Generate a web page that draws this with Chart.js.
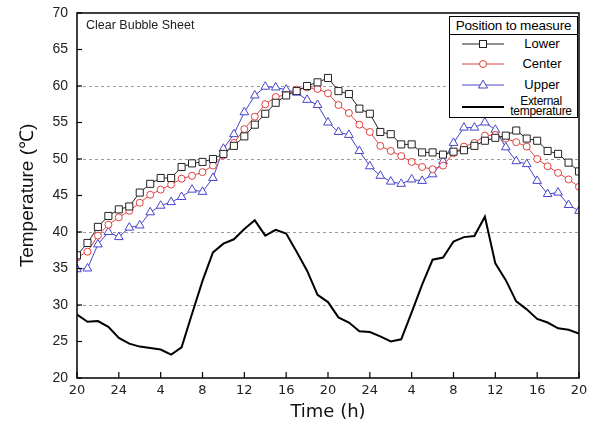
<!DOCTYPE html>
<html><head><meta charset="utf-8">
<script src="https://cdn.jsdelivr.net/npm/chart.js@4.4.0/dist/chart.umd.min.js"></script>
<style>
html,body{margin:0;padding:0;background:#fff;}
#wrap{position:relative;width:601px;height:435px;overflow:hidden;}
canvas{position:absolute;left:0;top:0;}
#note{position:absolute;left:86px;top:18px;font:12.5px "Liberation Sans",Arial,sans-serif;color:#222;white-space:nowrap;}
#legend{position:absolute;left:449px;top:16px;width:127px;height:100px;border:1px solid #000;background:#fff;font-family:"Liberation Sans",Arial,sans-serif;color:#000;}
#legend .hd{position:absolute;left:0;top:0;width:127px;height:17px;border-bottom:1px solid #000;text-align:center;font-size:13.5px;line-height:17px;letter-spacing:-0.2px;white-space:nowrap;}
#legend .row{position:absolute;left:0;width:127px;height:20px;}
#legend svg{position:absolute;left:12px;top:0;}
#legend .tx{position:absolute;left:62px;width:60px;text-align:center;font-size:13px;line-height:20px;white-space:nowrap;}
#legend .tx2{position:absolute;left:56px;width:70px;text-align:center;font-size:12px;line-height:10px;white-space:nowrap;letter-spacing:-0.3px;}
</style></head>
<body>
<div id="wrap">
<canvas id="c" width="601" height="435"></canvas>
<div id="note">Clear Bubble Sheet</div>
<div id="legend">
  <div class="hd">Position to measure</div>
  <div class="row" style="top:17px"><svg width="42" height="20"><line x1="0" y1="10" x2="42" y2="10" stroke="#222" stroke-width="1"/><rect x="17.5" y="6.5" width="7" height="7" fill="#fff" stroke="#222" stroke-width="1"/></svg><div class="tx">Lower</div></div>
  <div class="row" style="top:37px"><svg width="42" height="20"><line x1="0" y1="10" x2="42" y2="10" stroke="#e0403f" stroke-width="1"/><circle cx="21" cy="10" r="3.5" fill="#fff" stroke="#e0403f" stroke-width="1"/></svg><div class="tx">Center</div></div>
  <div class="row" style="top:58px"><svg width="42" height="20"><line x1="0" y1="10" x2="42" y2="10" stroke="#4646cc" stroke-width="1"/><polygon points="21,5 25.5,13 16.5,13" fill="#fff" stroke="#4646cc" stroke-width="1"/></svg><div class="tx">Upper</div></div>
  <div class="row" style="top:79px"><svg width="42" height="20"><line x1="0" y1="11" x2="42" y2="11" stroke="#000" stroke-width="2"/></svg><div class="tx2" style="top:0px">External</div><div class="tx2" style="top:10px">temperature</div></div>
</div>
</div>
<script>
const hours = [0,1,2,3,4,5,6,7,8,9,10,11,12,13,14,15,16,17,18,19,20,21,22,23,24,25,26,27,28,29,30,31,32,33,34,35,36,37,38,39,40,41,42,43,44,45,46,47,48];
const xTickLabels = ['20','24','4','8','12','16','20','24','4','8','12','16','20'];
const lower = [36.8,38.5,40.7,42.2,43.1,43.5,45.4,46.6,47.4,47.4,48.9,49.4,49.6,50.0,50.7,51.8,53.1,54.7,56.2,57.7,58.7,59.3,60.0,60.5,61.1,59.3,58.9,56.9,56.2,53.7,53.4,52.0,52.0,50.9,50.9,50.6,51.0,51.2,51.8,52.5,52.9,53.2,53.9,52.8,52.5,51.1,50.7,49.5,48.3];
const center = [36.5,37.3,39.5,41.0,42.0,42.9,44.0,45.1,45.8,46.5,47.3,47.7,48.2,49.1,50.5,52.2,54.1,55.8,57.5,58.5,58.8,59.5,59.8,59.6,59.0,57.4,56.3,54.7,53.7,51.8,51.1,50.4,49.6,48.9,48.6,49.1,50.8,51.7,52.2,53.2,53.3,52.8,52.3,51.7,50.0,49.0,48.1,47.2,46.2];
const upper = [34.9,35.0,38.3,40.0,39.3,40.6,40.9,42.7,43.6,44.1,44.8,45.8,45.5,47.4,51.4,53.4,56.4,58.7,59.9,59.8,59.5,59.1,58.1,57.4,55.0,53.7,53.3,51.1,49.0,47.7,46.9,46.6,47.2,47.0,47.9,49.7,52.2,54.3,54.3,55.0,54.0,51.6,49.7,49.3,47.0,45.2,45.4,43.7,42.9];
const external = [28.7,27.7,27.8,27.0,25.5,24.7,24.3,24.1,23.9,23.2,24.2,28.8,33.3,37.2,38.4,39.0,40.4,41.6,39.5,40.3,39.8,37.3,34.7,31.4,30.4,28.3,27.6,26.4,26.3,25.7,25.0,25.3,29.0,32.8,36.2,36.5,38.7,39.3,39.45,42.1,35.7,33.4,30.5,29.4,28.1,27.6,26.8,26.6,26.1];
const gridValues = [30,40,50,60];

const pts = arr => arr.map((v,i)=>({x:hours[i], y:v}));

const framePlugin = {
  id:'frame',
  beforeDatasetsDraw(chart){
    const {ctx, chartArea:a, scales:{y}} = chart;
    ctx.save();
    ctx.strokeStyle='#9c9c9c'; ctx.lineWidth=1; ctx.setLineDash([3,3]);
    gridValues.forEach(v=>{
      const py=Math.round(y.getPixelForValue(v))+0.5;
      ctx.beginPath(); ctx.moveTo(a.left,py); ctx.lineTo(a.right,py); ctx.stroke();
    });
    ctx.restore();
  },
  afterDraw(chart){
    const {ctx, chartArea:a, scales:{x,y}} = chart;
    ctx.save();
    ctx.strokeStyle='#000'; ctx.lineWidth=1.5; ctx.setLineDash([]);
    ctx.strokeRect(a.left, a.top, a.right-a.left, a.bottom-a.top);
    ctx.lineWidth=1.2;
    y.ticks.forEach(t=>{
      const py=y.getPixelForValue(t.value);
      ctx.beginPath(); ctx.moveTo(a.left,py); ctx.lineTo(a.left+5,py); ctx.stroke();
    });
    x.ticks.forEach(t=>{
      const px=x.getPixelForValue(t.value);
      ctx.beginPath(); ctx.moveTo(px,a.bottom); ctx.lineTo(px,a.bottom-6); ctx.stroke();
    });
    ctx.restore();
  }
};

new Chart(document.getElementById('c'), {
  type:'line',
  data:{datasets:[
    {label:'External temperature', data:pts(external), borderColor:'#000', borderWidth:2, pointRadius:0, tension:0},
    {label:'Lower', data:pts(lower), borderColor:'#222', borderWidth:1, pointStyle:'rect', pointRadius:5, pointBorderWidth:1, pointBorderColor:'#222', pointBackgroundColor:'#fff', tension:0},
    {label:'Center', data:pts(center), borderColor:'#e0403f', borderWidth:1, pointStyle:'circle', pointRadius:3.5, pointBorderWidth:1, pointBorderColor:'#e0403f', pointBackgroundColor:'#fff', tension:0},
    {label:'Upper', data:pts(upper), borderColor:'#4646cc', borderWidth:1, pointStyle:'triangle', pointRadius:5, pointBorderWidth:1, pointBorderColor:'#4646cc', pointBackgroundColor:'#fff', tension:0}
  ]},
  options:{
    responsive:false, animation:false, devicePixelRatio:1,
    layout:{padding:{top:6,right:22,left:0,bottom:0}},
    plugins:{legend:{display:false}, tooltip:{enabled:false}},
    scales:{
      x:{type:'linear', min:0, max:48,
        afterFit:s=>{s.height=57;},
        grid:{display:false, drawTicks:false}, border:{display:false},
        ticks:{stepSize:4, autoSkip:false, maxRotation:0, padding:5, color:'#222', font:{family:'DejaVu Sans', size:13}, callback:v=>xTickLabels[v/4]},
        title:{display:true, text:'Time (h)', color:'#111', font:{family:'DejaVu Sans', size:18}, padding:{top:0,bottom:12}}
      },
      y:{min:20, max:70,
        afterFit:s=>{s.width=77;},
        grid:{display:false, drawTicks:false}, border:{display:false},
        ticks:{stepSize:5, padding:9, color:'#222', font:{family:'Liberation Sans', size:14, lineHeight:0.57}},
        title:{display:true, text:'Temperature (℃)', color:'#111', font:{family:'Liberation Sans', size:19}, padding:{top:16,bottom:0}}
      }
    }
  },
  plugins:[framePlugin]
});
</script>
</body></html>
